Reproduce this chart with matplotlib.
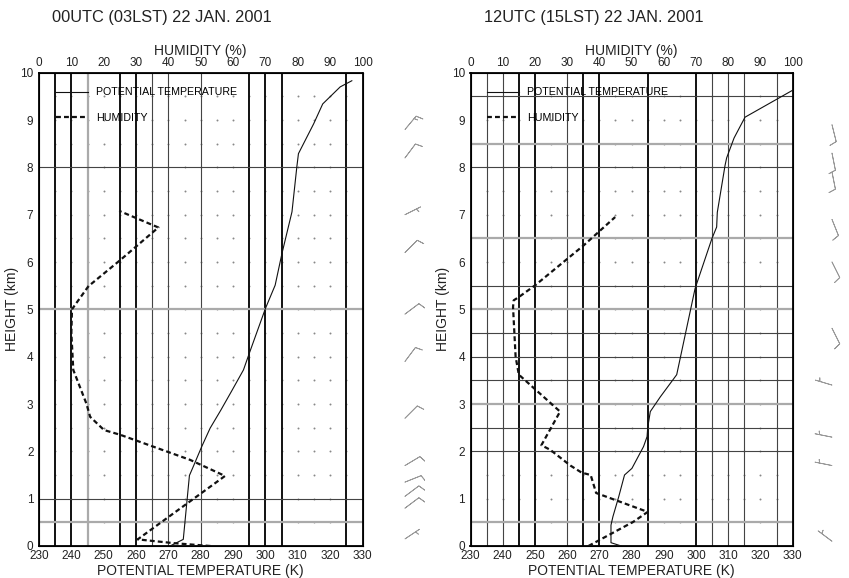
import numpy as np
import matplotlib.pyplot as plt

plt.rcParams.update({"font.family": "Liberation Sans", "font.size": 8})

# ---- 00UTC (03LST) sounding ----
h_theta_00 = [0.0, 0.14, 1.49, 1.68, 2.10, 2.49, 2.87, 3.28, 3.72, 4.07, 5.02,
              5.51, 6.18, 7.06, 8.01, 8.29, 8.92, 9.34, 9.70, 9.83]
theta_00 = [270.5, 274.6, 276.5, 277.7, 280.3, 282.9, 286.2, 289.6, 293.2, 295.0,
            300.0, 303.0, 305.1, 308.2, 309.7, 310.2, 314.9, 317.7, 323.1, 326.7]
h_rh_00 = [0.0, 0.06, 0.14, 1.48, 1.82, 2.35, 2.45, 2.73, 3.00, 3.72, 4.50,
           5.00, 5.09, 5.49, 6.04, 6.73, 7.08]
rh_00 = [53.0, 41.7, 30.5, 57.5, 46.7, 25.1, 20.1, 15.8, 14.7, 10.6, 10.0,
         10.2, 11.1, 15.3, 25.1, 36.9, 24.8]

# ---- 12UTC (15LST) sounding ----
h_theta_12 = [0.0, 0.07, 0.44, 0.62, 1.04, 1.50, 1.64, 2.10, 2.31, 2.50, 2.84,
              3.15, 3.50, 3.62, 5.44, 6.49, 6.74, 7.05, 8.04, 8.20, 8.62, 9.06, 9.63]
theta_12 = [276.8, 273.6, 273.6, 274.2, 276.0, 277.8, 280.1, 283.7, 284.8, 285.0,
            285.8, 288.9, 292.7, 294.0, 299.7, 304.9, 306.4, 306.6, 309.0, 309.5,
            311.8, 315.2, 330.0]
h_rh_12 = [0.0, 0.51, 0.72, 1.12, 1.50, 1.55, 1.70, 2.03, 2.13, 2.84, 3.62, 4.0,
           5.05, 5.19, 5.26, 5.51, 6.35, 6.95]
rh_12 = [36.6, 50.5, 55.0, 39.0, 37.3, 34.5, 31.0, 24.8, 22.0, 27.8, 15.0, 14.0,
         13.2, 13.4, 15.0, 20.1, 35.1, 44.9]

# wind barbs (knots) drawn beside each profile
barb_h_00 = [8.8, 8.2, 7.0, 6.2, 4.9, 3.9, 2.7, 1.7, 1.35, 1.05, 0.8, 0.15]
barb_u_00 = [-10, -6, -4, -6, -8, -6, -8, -10, -10, -8, -8, -6]
barb_v_00 = [-12, -8, -2, -6, -6, -8, -8, -6, -4, -6, -6, -4]
barb_h_12 = [8.9, 8.3, 7.9, 6.9, 6.0, 4.6, 3.4, 2.3, 1.7, 0.1]
barb_u_12 = [-3, -2, -2, -4, -5, -5, 5, 5, 5, 4]
barb_v_12 = [12, 10, 10, 10, 10, 10, -1.5, -1, -1, -3]

# grid layout of each chart
vthick_00, vthin_00, vgray_00 = [235, 240, 255, 260, 295, 300, 305, 325], [265, 270, 280], [245]
hthin_00, hgray_00 = [1, 8], [0.5, 5]
vthick_12, vthin_12, vgray_12 = [245, 250, 265, 270, 285, 300], [235, 240, 260, 305, 310, 315, 325], []
hthin_12, hgray_12 = [2, 2.5, 3.5, 4, 4.5, 5.5, 8, 9.5], [0.5, 3, 5, 6.5, 8.5]

fig = plt.figure(figsize=(8.49, 5.78), dpi=100)
W, H = 849.0, 578.0


def panel(x0, x1, title, h_th, th, h_rh, rh, grid, barbs, bx):
    ax = fig.add_axes([x0 / W, 32 / H, (x1 - x0) / W, 473.3 / H])
    ax.set_xlim(230, 330)
    ax.set_ylim(0, 10)
    vthick, vthin, vgray, hthin, hgray = grid

    gx, gy = np.meshgrid(np.arange(235, 330, 5), np.arange(0.5, 10, 0.5))
    ax.scatter(gx.ravel(), gy.ravel(), s=2.0, color="#888", lw=0, zorder=1)
    for v in vgray:
        ax.axvline(v, color="#aaa", lw=1.6, zorder=2)
    for v in vthin:
        ax.axvline(v, color="#444", lw=0.8, zorder=2)
    for v in vthick:
        ax.axvline(v, color="#111", lw=1.4, zorder=2)
    for h in hgray:
        ax.axhline(h, color="#aaa", lw=1.6, zorder=2)
    for h in hthin:
        ax.axhline(h, color="#444", lw=0.8, zorder=2)

    ax.set_xticks(np.arange(230, 331, 10))
    ax.set_yticks(np.arange(0, 11, 1))
    ax.tick_params(length=0, labelsize=8.5, colors="#222")
    ax.tick_params(axis="x", pad=3)
    ax.tick_params(axis="y", pad=4)
    ax.set_xlabel("POTENTIAL TEMPERATURE (K)", fontsize=10, labelpad=1, color="#222")
    ax.set_ylabel("HEIGHT (km)", fontsize=10, labelpad=1, color="#222")
    for s in ax.spines.values():
        s.set_linewidth(1.3)
    l1, = ax.plot(th, h_th, color="#111", lw=0.8, zorder=4,
                  label="POTENTIAL TEMPERATURE")

    ax2 = ax.twiny()
    ax2.set_xlim(0, 100)
    ax2.set_xticks(np.arange(0, 101, 10))
    ax2.tick_params(length=0, labelsize=8.5, colors="#222", pad=3)
    ax2.set_xlabel("HUMIDITY (%)", fontsize=10, labelpad=1, color="#222")
    l2, = ax2.plot(rh, h_rh, color="#111", lw=1.6, ls=(0, (2.2, 1.4)), zorder=4,
                   label="HUMIDITY")
    ax2.legend(handles=[l1, l2], loc="upper left", bbox_to_anchor=(0.052, 0.969),
               frameon=False, fontsize=7.7, handlelength=3.0, handletextpad=0.75,
               labelspacing=1.45, borderpad=0, borderaxespad=0)

    fig.text(x0 / W + 13 / W, 1 - 17.5 / H, title, fontsize=11.8, va="center",
             ha="left", color="#222")

    bh, bu, bv = barbs
    bax = fig.add_axes([(bx - 20) / W, 32 / H, 40 / W, 473.3 / H])
    bax.set_xlim(-1, 1)
    bax.set_ylim(0, 10)
    bax.axis("off")
    bax.barbs(np.zeros(len(bh)), bh, bu, bv, length=5.0, color="#999",
              lw=0.6, sizes=dict(spacing=0.18, height=0.4))


panel(39, 362.5, "00UTC (03LST) 22 JAN. 2001", h_theta_00, theta_00, h_rh_00, rh_00,
      (vthick_00, vthin_00, vgray_00, hthin_00, hgray_00),
      (barb_h_00, barb_u_00, barb_v_00), 405)
panel(470.5, 792.7, "12UTC (15LST) 22 JAN. 2001", h_theta_12, theta_12, h_rh_12, rh_12,
      (vthick_12, vthin_12, vgray_12, hthin_12, hgray_12),
      (barb_h_12, barb_u_12, barb_v_12), 832)

fig.savefig("out.png", dpi=100, facecolor="white")
